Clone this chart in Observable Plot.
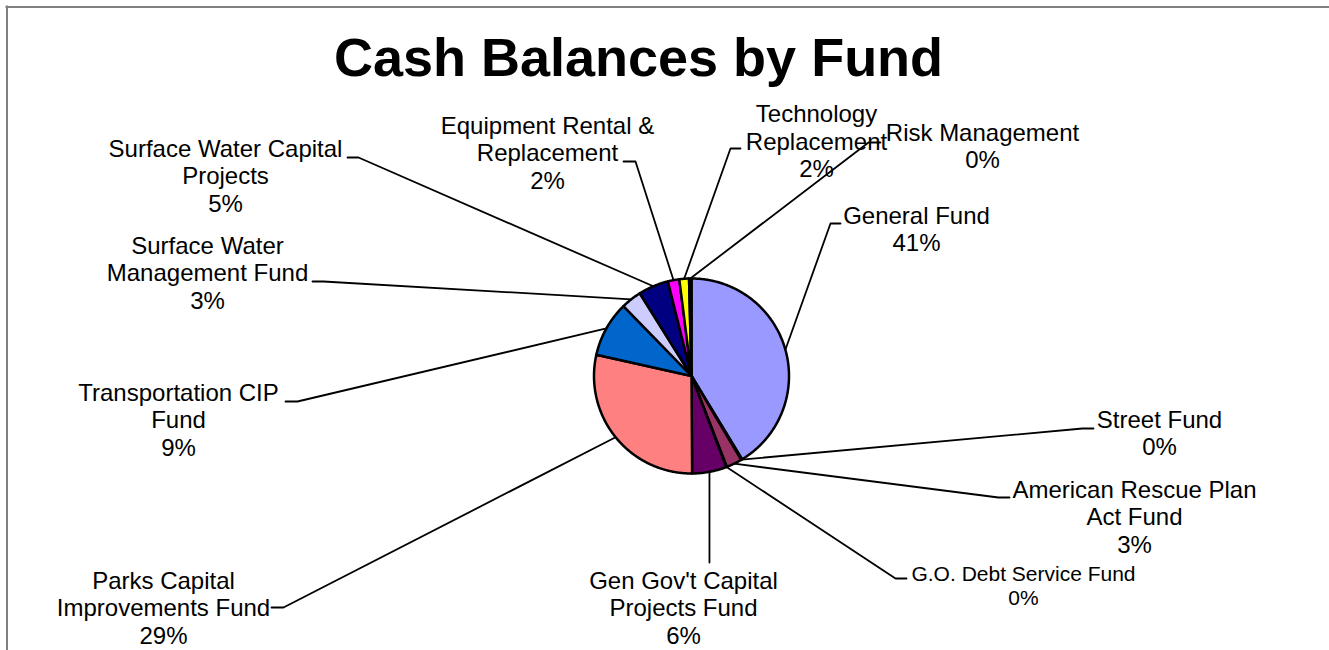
<!DOCTYPE html>
<html><head><meta charset="utf-8">
<script src="https://cdn.jsdelivr.net/npm/d3@7"></script>
<script src="https://cdn.jsdelivr.net/npm/@observablehq/plot@0.6"></script>
<style>
html,body{margin:0;padding:0;background:#fff;}
</style></head>
<body><div id="wrap"></div>
<script>
// ---- data ----
const funds = [
  "General Fund",
  "Street Fund",
  "American Rescue Plan\nAct Fund",
  "G.O. Debt Service Fund",
  "Gen Gov't Capital\nProjects Fund",
  "Parks Capital\nImprovements Fund",
  "Transportation CIP\nFund",
  "Surface Water\nManagement Fund",
  "Surface Water Capital\nProjects",
  "Equipment Rental &\nReplacement",
  "Technology\nReplacement",
  "Risk Management"
];
const shares = [41.3, 0.2, 2.6, 0.1, 5.7, 28.6, 9.2, 3.4, 5.0, 1.9, 1.6, 0.4];
const colors = ["#9999FF", "#FFFFCC", "#993366", "#CCFFFF", "#660066", "#FF8080",
                "#0066CC", "#CCCCFF", "#000080", "#FF00FF", "#FFFF00", "#00FFFF"];
const title = "Cash Balances by Fund";

// ---- layout (label placement, leader elbows, chart-area border) ----
const pie = {cx: 691, cy: 375.5, r: 97.5};
const border = {x: 6.5, y: 6.5, right: 1329, color: "#808080", width: 2};
const labelAt = [[916, 250.5], [1159, 454.5], [1134, 552], [1023, 604], [683, 643], [163, 643],
                 [178, 455], [207, 308], [225, 211], [547, 188], [816, 176.5], [982, 167.5]];
const elbows = [[840, 223, 830, 223], [1093, 428, 1082, 428], [1009, 497, 998, 497], [906, 578, 895, 578],
                [null, 562, null, 562], [271, 607, 283, 607], [285, 401, 297, 401], [312, 281, 323, 281],
                [347, 157, 358, 157], [623, 161, 635, 161], [740, 148, 730, 148], [880, 142, 868, 142]];
const fontSizes = funds.map((f) => f.startsWith("G.O.") ? 21 : 24);

// ---- build geometry from data ----
const total = d3.sum(shares);
const toXY = (a, r) => [pie.cx + r * Math.sin(a), pie.cy - r * Math.cos(a)];
let acc = 0;
const slices = shares.map((v, i) => {
  const a0 = acc / total * 2 * Math.PI;
  acc += v;
  const a1 = acc / total * 2 * Math.PI;
  const n = Math.max(2, Math.ceil((a1 - a0) / (Math.PI / 360)));
  const pts = [[pie.cx, pie.cy]];
  for (let k = 0; k <= n; ++k) pts.push(toXY(a0 + (a1 - a0) * k / n, pie.r));
  pts.push([pie.cx, pie.cy]);
  return {i, color: colors[i], pts, mid: (a0 + a1) / 2};
});

const leaders = slices.map((s, i) => {
  const p = toXY(s.mid, pie.r);
  const [x1, y1, x2, y2] = elbows[i];
  if (x1 === null) return [[p[0], y1], p];
  return [[x1, y1], [x2, y2], p];
});

const labels = funds.map((f, i) => ({
  text: f + "\n" + Math.round(shares[i] / total * 100) + "%",
  x: labelAt[i][0], y: labelAt[i][1], fs: fontSizes[i]
}));

const marks = [
  Plot.ruleY([border.y], {x1: border.x - 1, x2: border.right, stroke: border.color, strokeWidth: border.width}),
  Plot.ruleX([border.x], {y1: border.y - 1, y2: 650, stroke: border.color, strokeWidth: border.width})
];
for (const s of slices) {
  marks.push(Plot.line(s.pts, {x: (d) => d[0], y: (d) => d[1], fill: s.color, stroke: "black",
    strokeWidth: 2.5, strokeLinejoin: "round", curve: "linear"}));
}
for (const l of leaders) {
  marks.push(Plot.line(l, {x: (d) => d[0], y: (d) => d[1], stroke: "black", strokeWidth: 1.8, curve: "linear"}));
}
for (const fs of [24, 21]) {
  marks.push(Plot.text(labels.filter((d) => d.fs === fs), {
    x: "x", y: "y", text: "text", textAnchor: "middle", lineAnchor: "bottom",
    fontSize: fs, lineHeight: fs === 24 ? 1.146 : 1.1, fill: "black"
  }));
}
marks.push(Plot.text([title], {frameAnchor: "top", dx: -26.5, dy: 37, lineAnchor: "top",
  fontSize: 54, fontWeight: "bold", fill: "black"}));

const chart = Plot.plot({
  width: 1329, height: 650, margin: 0,
  style: {fontFamily: "'Liberation Sans', Arial, sans-serif", background: "white"},
  x: {domain: [0, 1329], range: [0, 1329], axis: null},
  y: {domain: [0, 650], range: [0, 650], axis: null},
  marks
});
document.getElementById("wrap").appendChild(chart);
</script>
</body></html>
